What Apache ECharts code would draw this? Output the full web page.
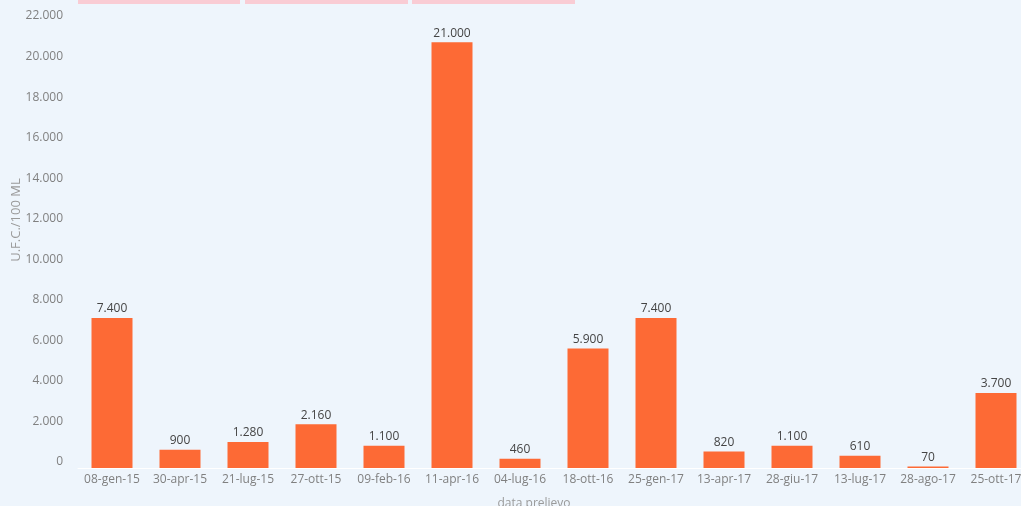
<!DOCTYPE html>
<html>
<head>
<meta charset="utf-8">
<script src="https://cdn.jsdelivr.net/npm/echarts@6/dist/echarts.min.js"></script>
<style>
  html, body { margin: 0; padding: 0; background: #eef5fc; }
  #chart { width: 1021px; height: 506px; }
</style>
</head>
<body>
<div id="chart"></div>
<script>
// Sampling dates (Italian short month names)
const categories = ['08-gen-15', '30-apr-15', '21-lug-15', '27-ott-15', '09-feb-16', '11-apr-16', '04-lug-16',
  '18-ott-16', '25-gen-17', '13-apr-17', '28-giu-17', '13-lug-17', '28-ago-17', '25-ott-17'];
// Colony counts, U.F.C. per 100 ml
const values = [7400, 900, 1280, 2160, 1100, 21000, 460, 5900, 7400, 820, 1100, 610, 70, 3700];

const yAxisMax = 22000;
const yAxisStep = 2000;
const yAxisTitle = 'U.F.C./100 ML';

// Italian thousands separator: 21000 -> "21.000"
function fmt(v) {
  return String(v).replace(/\B(?=(\d{3})+(?!\d))/g, '.');
}

const chart = echarts.init(document.getElementById('chart'));
const font = 'Open Sans, DejaVu Sans, sans-serif';

chart.setOption({
  backgroundColor: '#eef5fc',
  animation: false,
  grid: { left: 78, top: 22, bottom: 38, width: 952, outerBoundsMode: 'none', containLabel: false },
  graphic: [
    { type: 'rect', shape: { x: 78, y: 0, width: 162, height: 4 }, style: { fill: '#f9ccd4' } },
    { type: 'rect', shape: { x: 245, y: 0, width: 163, height: 4 }, style: { fill: '#f9ccd4' } },
    { type: 'rect', shape: { x: 412, y: 0, width: 163, height: 4 }, style: { fill: '#f9ccd4' } },
    {
      type: 'text', x: 16, y: 220, rotation: Math.PI / 2,
      style: {
        text: yAxisTitle, fill: '#9a9a9a', font: '13px ' + font,
        textAlign: 'center', textVerticalAlign: 'middle'
      }
    }
  ],
  xAxis: {
    type: 'category',
    data: categories,
    name: 'data prelievo',
    nameLocation: 'middle',
    nameGap: 30,
    nameTextStyle: { color: '#9a9a9a', fontSize: 12, fontFamily: font, padding: [0, 40, 0, 0] },
    axisLine: { lineStyle: { color: '#ffffff', width: 1 } },
    axisTick: { show: false },
    axisLabel: { interval: 0, color: '#808080', fontSize: 12, fontFamily: font, margin: 6 }
  },
  yAxis: {
    type: 'value',
    min: 0,
    max: yAxisMax,
    interval: yAxisStep,
    splitLine: { show: false },
    axisLine: { show: false },
    axisTick: { show: false },
    axisLabel: {
      color: '#808080', fontSize: 12, fontFamily: font, margin: 15,
      verticalAlign: 'bottom',
      formatter: v => fmt(v)
    }
  },
  series: [{
    type: 'bar',
    data: values,
    barWidth: 41,
    itemStyle: { color: '#fd6a35' },
    label: {
      show: true,
      position: 'top',
      distance: 3,
      color: '#444444',
      fontSize: 12,
      fontFamily: font,
      formatter: p => fmt(p.value)
    }
  }]
});
</script>
</body>
</html>
